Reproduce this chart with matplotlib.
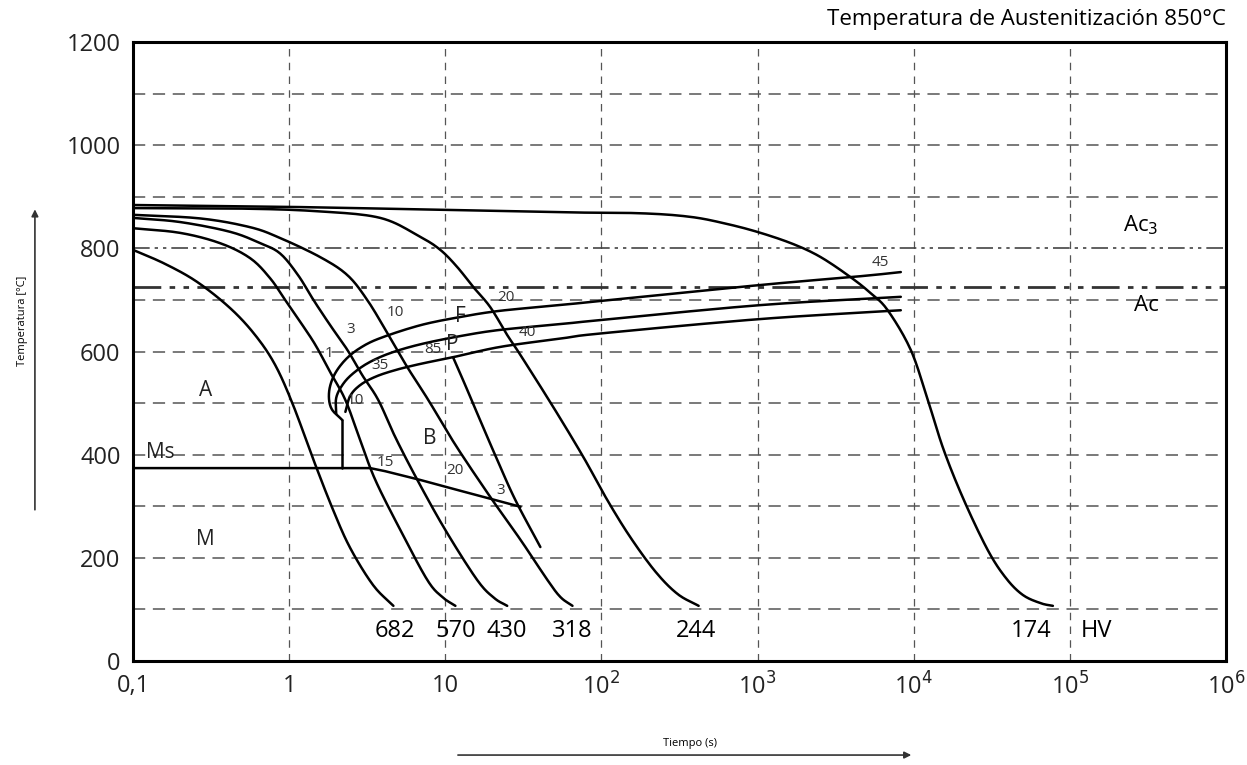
import numpy as np
import matplotlib
matplotlib.use("Agg")
from matplotlib import pyplot as plt

plt.rcParams['font.family'] = ['Open Sans', 'DejaVu Sans']

# cooling curves: time (s), temperature (C)
t_682 = [0.1, 0.160, 0.257, 0.419, 0.605, 0.813, 1.06, 1.43, 1.91, 2.46, 3.45, 4.65]
T_682 = [797, 770, 735, 684, 632, 574, 496, 390, 293, 219, 147, 107]

t_570 = [0.1, 0.200, 0.361, 0.562, 0.755, 0.942, 1.18, 1.47, 1.83, 2.29, 2.85, 3.56, 5.15, 7.67, 9.57, 11.6]
T_570 = [839, 830, 810, 781, 742, 700, 657, 613, 560, 506, 428, 351, 254, 157, 124, 107]

t_430 = [0.1, 0.200, 0.419, 0.652, 0.875, 1.14, 1.43, 1.83, 2.36, 2.94, 3.72, 4.78, 6.62, 10.0, 16.0, 20.6, 24.9]
T_430 = [859, 851, 832, 810, 790, 748, 700, 651, 603, 554, 506, 434, 351, 254, 157, 122, 107]

t_318 = [0.1, 0.269, 0.562, 0.875, 1.58, 2.36, 3.16, 4.25, 5.70, 7.78, 11.6, 19.4, 30.3, 45.1, 54.6, 65.2]
T_318 = [865, 858, 841, 820, 783, 748, 700, 636, 570, 506, 419, 318, 235, 157, 124, 107]

t_244 = [0.1, 0.5, 1.5, 3.83, 6.92, 9.29, 11.9, 15.1, 19.4, 24.9, 30.3, 49.2, 76.7, 109, 153, 222, 307, 419]
T_244 = [878, 877, 872, 859, 822, 797, 764, 725, 686, 632, 593, 492, 395, 312, 240, 173, 130, 107]

t_174 = [0.1, 1.18, 54.6, 178, 372, 643, 1045, 1700, 2535, 3945, 5300, 6810, 9570, 12300,
         15560, 20940, 29790, 38900, 50000, 65200, 77800]
T_174 = [884, 880, 870, 868, 861, 847, 830, 808, 783, 744, 713, 680, 603, 506,
         409, 312, 215, 161, 128, 112, 107]

# transformation lines
t_fs = [2.19, 1.86, 1.80, 1.94, 2.29, 2.85, 3.83, 6.92, 12.5, 22.5, 54.6, 98.6, 1045, 4570, 8260]
T_fs = [467, 490, 521, 554, 584, 607, 626, 651, 667, 679, 690, 698, 729, 746, 754]

t_ps = [2.00, 2.00, 2.19, 2.53, 3.21, 4.44, 6.92, 12.5, 22.5, 54.6, 98.6, 1045, 8260]
T_ps = [479, 510, 535, 556, 578, 597, 614, 630, 642, 653, 661, 690, 706]

t_pf = [2.29, 2.46, 2.85, 3.56, 4.78, 6.92, 11.2, 22.5, 54.6, 98.6, 1045, 8260]
T_pf = [483, 514, 535, 551, 564, 576, 589, 609, 625, 635, 663, 680]

t_pb = [11.2, 13.4, 16.7, 21.5, 28.1, 40.6]
T_pb = [589, 535, 467, 390, 312, 221]

t_bs = [2.19, 2.19]
T_bs = [467, 374]

t_ms = [0.1, 3.30, 4.12, 6.92, 12.5, 30.3]
T_ms = [374, 374, 368, 351, 330, 299]

Ac3 = 800
Ac1 = 725

hv_values = ['682', '570', '430', '318', '244', '174']
hv_times = [4.78, 11.6, 24.9, 65.2, 401, 56200]

# small labels on the lines
marks = [('1', 1.80, 597), ('3', 2.46, 642), ('10', 4.78, 675), ('20', 24.3, 704),
         ('45', 6140, 773), ('35', 3.83, 572), ('10', 2.65, 506), ('85', 8.26, 603),
         ('40', 33.6, 636), ('15', 4.12, 384), ('20', 11.6, 370), ('3', 22.5, 331)]
regions = [('F', 12.5, 667), ('P', 11.1, 613), ('B', 8.0, 432), ('A', 0.29, 525),
           ('M', 0.29, 235), ('Ms', 0.149, 405)]


def smooth(t, T, n=12):
    # catmull-rom through the read points, in log-time space (drawing only)
    x = np.log10(t)
    y = np.asarray(T, float)
    px = np.concatenate([[2*x[0]-x[1]], x, [2*x[-1]-x[-2]]])
    py = np.concatenate([[2*y[0]-y[1]], y, [2*y[-1]-y[-2]]])
    xs, ys = [], []
    for i in range(1, len(px) - 2):
        s = np.linspace(0, 1, n, endpoint=False)
        for p, out in ((px, xs), (py, ys)):
            p0, p1, p2, p3 = p[i-1], p[i], p[i+1], p[i+2]
            out.extend(0.5*((2*p1) + (-p0+p2)*s + (2*p0-5*p1+4*p2-p3)*s**2
                            + (-p0+3*p1-3*p2+p3)*s**3))
    xs.append(x[-1])
    ys.append(y[-1])
    return 10**np.array(xs), np.array(ys)


fig = plt.figure(figsize=(12.47, 7.65), dpi=100)
ax = fig.add_axes([0.1067, 0.1359, 0.8765, 0.8092])
ax.set_xscale('log')
ax.set_xlim(0.1, 1e6)
ax.set_ylim(0, 1200)

# grid
for yv in [100, 200, 300, 400, 500, 600, 700, 900, 1000, 1100]:
    ax.axhline(yv, color='#555555', lw=1.1, ls=(0, (8, 5)), zorder=1)
for xv in [1, 10, 1e2, 1e3, 1e4, 1e5]:
    ax.axvline(xv, color='#555555', lw=0.9, ls=(0, (6, 5)), zorder=1)
ax.axhline(Ac3, color='#444444', lw=1.2, ls=(0, (10, 3, 2, 3, 2, 3)), zorder=1)
ax.axhline(Ac1, color='#333333', lw=2.0, ls=(0, (10, 3, 2, 3, 2, 3)), zorder=1)

lw = 1.8
for t, T in [(t_682, T_682), (t_570, T_570), (t_430, T_430), (t_318, T_318),
             (t_244, T_244), (t_174, T_174), (t_fs, T_fs), (t_ps, T_ps),
             (t_pf, T_pf), (t_pb, T_pb)]:
    xs, ys = smooth(t, T)
    ax.plot(xs, ys, color='black', lw=lw, solid_capstyle='round', zorder=3)
for t, T in [(t_bs, T_bs), (t_ms, T_ms)]:
    ax.plot(t, T, color='black', lw=lw, solid_capstyle='round', zorder=3)

for s, x, y in marks:
    ax.text(x, y, s, fontsize=11, color='#333333', ha='center', va='center', zorder=4)
for s, x, y in regions:
    ax.text(x, y, s, fontsize=15, color='#222222', ha='center', va='center', zorder=4)

ax.text(2.85e5, 845, 'Ac$_3$', fontsize=16, ha='center', va='center')
ax.text(3.07e5, 690, 'Ac', fontsize=16, ha='center', va='center')

for s, x in zip(hv_values, hv_times):
    ax.text(x, 58, s, fontsize=17, ha='center', va='center')
ax.text(1.47e5, 58, 'HV', fontsize=17, ha='center', va='center')

ax.text(1.0, 1.02, 'Temperatura de Austenitización 850°C', transform=ax.transAxes,
        fontsize=16, ha='right', va='bottom')

ax.set_yticks([0, 200, 400, 600, 800, 1000, 1200])
ax.set_xticks([0.1, 1, 10, 1e2, 1e3, 1e4, 1e5, 1e6])
ax.set_xticklabels(['0,1', '1', '10', '10$^2$', '10$^3$', '10$^4$', '10$^5$', '10$^6$'])
ax.minorticks_off()
ax.tick_params(length=0, labelsize=17, labelcolor='#222222')
ax.tick_params(axis='y', pad=9)
ax.tick_params(axis='x', pad=9)
for sp in ax.spines.values():
    sp.set_linewidth(2.2)

# axis titles with arrows
fig.text(0.018, 0.58, 'Temperatura [°C]', rotation=90, fontsize=8, ha='center', va='center')
ax.annotate('', xy=(0.028, 0.73), xycoords='figure fraction', xytext=(0.028, 0.33),
            arrowprops=dict(arrowstyle='-|>', color='#333333', lw=1.2))
fig.text(0.553, 0.028, 'Tiempo (s)', fontsize=8, ha='center', va='center')
ax.annotate('', xy=(0.733, 0.013), xycoords='figure fraction', xytext=(0.365, 0.013),
            arrowprops=dict(arrowstyle='-|>', color='#333333', lw=1.2))

plt.savefig('out.png', dpi=100)
